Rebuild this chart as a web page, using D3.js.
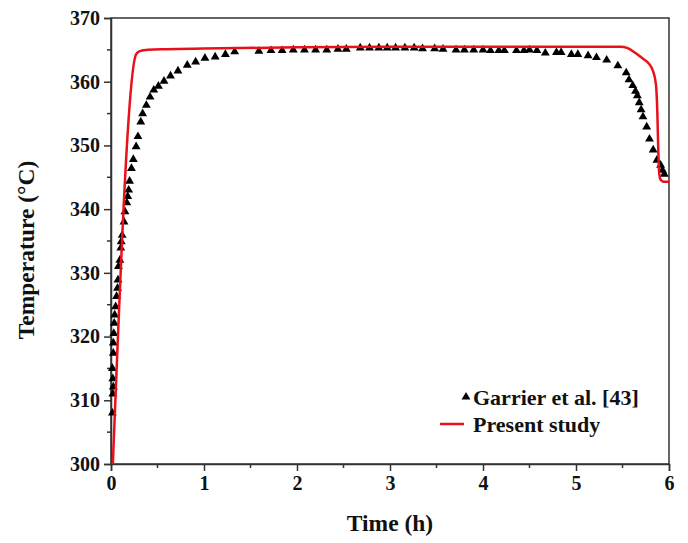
<!DOCTYPE html>
<html>
<head>
<meta charset="utf-8">
<script src="https://cdn.jsdelivr.net/npm/d3@7"></script>
<style>
  body { margin: 0; background: #fff; }
  text { font-family: "Liberation Serif", "Times New Roman", serif; font-weight: bold; fill: #111; }
</style>
</head>
<body>
<div id="chart"></div>
<script>
// Garrier et al. [43] measured points (time h, temperature °C)
const garrierTime = [0.015, 0.02, 0.025, 0.02, 0.015, 0.025, 0.025, 0.03, 0.035, 0.04, 0.05, 0.06, 0.07, 0.075, 0.08, 0.095,
  0.105, 0.11, 0.12, 0.14, 0.15, 0.17, 0.18, 0.19, 0.2, 0.22, 0.24, 0.27, 0.29, 0.32, 0.34, 0.38, 0.42, 0.46, 0.51, 0.57,
  0.64, 0.72, 0.82, 0.91, 1.01, 1.12, 1.23, 1.33, 1.59, 1.72, 1.84, 1.96, 2.08, 2.2, 2.32, 2.44, 2.53, 2.68, 2.78, 2.88,
  2.97, 3.06, 3.16, 3.26, 3.35, 3.48, 3.57, 3.71, 3.8, 3.9, 4.0, 4.08, 4.17, 4.23, 4.36, 4.44, 4.5, 4.58, 4.67, 4.79,
  4.84, 4.95, 5.02, 5.13, 5.22, 5.33, 5.45, 5.54, 5.57, 5.61, 5.64, 5.66, 5.68, 5.7, 5.72, 5.76, 5.79, 5.83, 5.87, 5.91,
  5.93, 5.95];
const garrierTemp = [308, 311, 312.1, 313.4, 315, 317.4, 319, 320.5, 322.1, 323.4, 324.7, 326.3, 327.6, 328.9, 331, 332,
  333.9, 334.9, 335.9, 338, 339.6, 341, 342, 343, 344.4, 346.4, 347.8, 349.8, 351.4, 353.7, 355, 356.3, 357.6, 358.7, 359.3,
  360.1, 360.9, 361.7, 362.6, 363.1, 363.7, 363.9, 364.3, 364.7, 364.8, 364.9, 364.9, 365.0, 365.0, 365.0, 365.0, 365.1,
  365.1, 365.3, 365.3, 365.3, 365.3, 365.3, 365.3, 365.3, 365.2, 365.2, 365.1, 365.0, 365.0, 365.0, 365.0, 364.9, 364.9,
  364.9, 364.9, 364.9, 365.0, 364.9, 364.5, 364.6, 364.6, 364.3, 364.3, 364.1, 363.8, 363.4, 362.5, 361.4, 360.3, 359.4,
  358.5, 357.8, 356.7, 355.6, 354.5, 352.9, 351.0, 349.3, 347.7, 346.9, 346.1, 345.5];

// Present study simulation curve
const presentTime = [0.02, 0.27, 0.31, 0.4, 0.6, 1.0, 2.0, 3.0, 4.0, 5.0, 5.48, 5.55, 5.64, 5.72, 5.78, 5.83, 5.86,
  5.875, 5.885, 5.895, 5.91, 5.94, 6.0];
const presentTemp = [300, 364.3, 364.8, 365.0, 365.1, 365.2, 365.4, 365.5, 365.5, 365.5, 365.5, 365.3, 364.5, 363.6, 362.9,
  361.6, 359.5, 355, 349, 345.6, 344.6, 344.3, 344.3];

const xTicks = [0, 1, 2, 3, 4, 5, 6];
const yTicks = [300, 310, 320, 330, 340, 350, 360, 370];
const legendLabels = ["Garrier et al. [43]", "Present study"];

const width = 688, height = 543;
const margin = {top: 18, right: 19, bottom: 79, left: 111};
const innerW = width - margin.left - margin.right;
const innerH = height - margin.top - margin.bottom;

const svg = d3.select("#chart").append("svg")
    .attr("width", width)
    .attr("height", height);

const g = svg.append("g").attr("transform", `translate(${margin.left},${margin.top})`);

const x = d3.scaleLinear().domain([0, 6]).range([0, innerW]);
const y = d3.scaleLinear().domain([300, 370]).range([innerH, 0]);

const axisColor = "#333";

// frame (top and right)
g.append("rect")
    .attr("width", innerW)
    .attr("height", innerH)
    .attr("fill", "none")
    .attr("stroke", axisColor)
    .attr("stroke-width", 1.5);

// minor ticks
const xMinor = d3.range(0.5, 6, 1);
const yMinor = d3.range(305, 370, 10);
g.append("g").selectAll("line").data(xMinor).join("line")
    .attr("x1", d => x(d)).attr("x2", d => x(d))
    .attr("y1", innerH).attr("y2", innerH + 4)
    .attr("stroke", axisColor).attr("stroke-width", 1.5);
g.append("g").selectAll("line").data(yMinor).join("line")
    .attr("x1", -4).attr("x2", 0)
    .attr("y1", d => y(d)).attr("y2", d => y(d))
    .attr("stroke", axisColor).attr("stroke-width", 1.5);

const xAxis = g.append("g")
    .attr("transform", `translate(0,${innerH})`)
    .call(d3.axisBottom(x).tickValues(xTicks).tickSize(7).tickPadding(5).tickFormat(d3.format("d")));
const yAxis = g.append("g")
    .call(d3.axisLeft(y).tickValues(yTicks).tickSize(7).tickPadding(4).tickFormat(d3.format("d")));

[xAxis, yAxis].forEach(a => {
  a.select(".domain").attr("stroke", axisColor).attr("stroke-width", 1.5);
  a.selectAll(".tick line").attr("stroke", axisColor).attr("stroke-width", 1.5);
  a.selectAll(".tick text")
    .attr("fill", "#111")
    .style("font-family", "'Liberation Serif', serif")
    .style("font-weight", "bold")
    .style("font-size", "20px");
});

// axis titles
svg.append("text")
    .attr("x", margin.left + innerW / 2)
    .attr("y", 531)
    .attr("text-anchor", "middle")
    .style("font-size", "23.5px")
    .text("Time (h)");

svg.append("text")
    .attr("transform", `translate(34,${margin.top + innerH / 2 + 9}) rotate(-90)`)
    .attr("text-anchor", "middle")
    .style("font-size", "23.5px")
    .text("Temperature (°C)");

const garrier = garrierTime.map((t, i) => ({t, v: garrierTemp[i]}));
const present = presentTime.map((t, i) => ({t, v: presentTemp[i]}));

svg.append("clipPath").attr("id", "clip")
  .append("rect").attr("width", innerW).attr("height", innerH + 2).attr("y", -1);

const triangle = d3.symbol().type(d3.symbolTriangle).size(34);

g.append("g")
  .selectAll("path")
  .data(garrier)
  .join("path")
    .attr("d", triangle)
    .attr("transform", d => `translate(${x(d.t)},${y(d.v)})`)
    .attr("fill", "#000");

// Present study line
g.append("path")
    .datum(present)
    .attr("clip-path", "url(#clip)")
    .attr("fill", "none")
    .attr("stroke", "#e8101a")
    .attr("stroke-width", 2.5)
    .attr("stroke-linejoin", "round")
    .attr("d", d3.line().x(d => x(d.t)).y(d => y(d.v)).curve(d3.curveMonotoneX));

// legend
const legend = svg.append("g").attr("transform", "translate(440,397)");
legend.append("path")
    .attr("d", triangle)
    .attr("transform", "translate(26,0)")
    .attr("fill", "#000");
legend.append("line")
    .attr("x1", 0).attr("x2", 24)
    .attr("y1", 27).attr("y2", 27)
    .attr("stroke", "#e8101a").attr("stroke-width", 2.5);
legend.selectAll("text.lab")
  .data(legendLabels)
  .join("text")
    .attr("class", "lab")
    .attr("x", 33)
    .attr("y", (d, i) => i * 27 + 8)
    .style("font-size", "22px")
    .text(d => d);
</script>
</body>
</html>
